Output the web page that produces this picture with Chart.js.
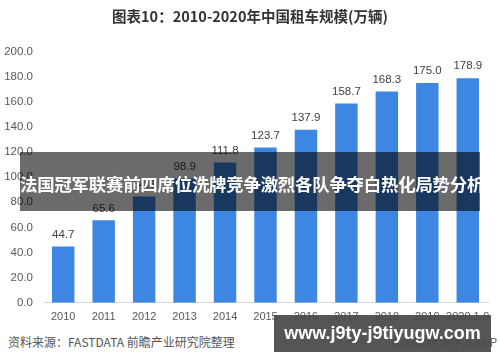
<!DOCTYPE html>
<html><head><meta charset="utf-8">
<script src="https://cdn.jsdelivr.net/npm/chart.js@4"></script>
<style>
html,body{margin:0;padding:0;background:#fff;}
#wrap{position:relative;width:500px;height:362px;overflow:hidden;font-family:"Liberation Sans","Noto Sans CJK SC",sans-serif;}
#cv{position:absolute;left:0;top:0;}
.src{position:absolute;left:8px;top:333px;font-size:12px;color:#555;font-family:"Noto Sans CJK SC",sans-serif;white-space:nowrap;}
.app{position:absolute;right:3px;top:333px;font-size:12px;color:#666;font-family:"Noto Sans CJK SC",sans-serif;white-space:nowrap;}
.banner{position:absolute;left:20px;top:152px;width:460px;height:59px;background:rgba(0,0,0,0.58);overflow:hidden;}
.banner span{position:absolute;left:0;right:0;top:0;bottom:0;color:#fff;font-weight:bold;font-size:17.4px;line-height:63px;text-align:center;font-family:"Noto Sans CJK SC",sans-serif;white-space:nowrap;letter-spacing:-0.2px;}
.wm{position:absolute;left:274px;top:315px;width:217px;height:37px;background:rgba(72,72,72,0.93);color:#fff;font-weight:bold;font-size:18px;line-height:37px;text-align:center;font-family:"Liberation Sans",sans-serif;white-space:nowrap;}
</style></head>
<body>
<div id="wrap">
<canvas id="cv" width="500" height="330"></canvas>
<div class="src">资料来源：FASTDATA 前瞻产业研究院整理</div>
<div class="app">@前瞻经济学人APP</div>
<div class="banner"><span>法国冠军联赛前四席位洗牌竞争激烈各队争夺白热化局势分析</span></div>
<div class="wm">www.j9ty-j9tiyugw.com</div>
</div>
<script>
const categories = ["2010","2011","2012","2013","2014","2015","2016","2017","2018","2019","2020.1-9"];
const fleetSize = [44.7,65.6,84.6,98.9,111.8,123.7,137.9,158.7,168.3,175.0,178.9];
const chartTitle = "图表10：2010-2020年中国租车规模(万辆)";

const valueLabels = {
  id:'valueLabels',
  afterDatasetsDraw(chart){
    const ctx = chart.ctx;
    const meta = chart.getDatasetMeta(0);
    ctx.save();
    ctx.font = '11.5px "Liberation Sans", sans-serif';
    ctx.fillStyle = '#404040';
    ctx.textAlign = 'center';
    ctx.textBaseline = 'middle';
    meta.data.forEach((bar,i)=>{
      ctx.fillText(fleetSize[i].toFixed(1), bar.x, bar.y - 12);
    });
    ctx.restore();
  }
};

new Chart(document.getElementById('cv'), {
  type:'bar',
  data:{labels:categories, datasets:[{data:fleetSize, backgroundColor:'#3d87e2', barPercentage:0.555, categoryPercentage:1}]},
  options:{
    responsive:false, animation:false,
    layout:{padding:{left:0,right:0,top:0,bottom:0}},
    plugins:{
      legend:{display:false}, tooltip:{enabled:false},
      title:{display:true,text:chartTitle,color:'#333',font:{size:14.5,weight:'bold',family:'"Noto Sans CJK SC", sans-serif'},padding:{top:8,bottom:26.3}}
    },
    scales:{
      x:{
        grid:{display:false,drawTicks:false},
        border:{display:true,color:'#d9d9d9'},
        ticks:{color:'#595959',font:{size:11,family:'"Liberation Sans", sans-serif'},padding:8,maxRotation:0,autoSkip:false},
        afterFit(s){s.height = 27.3;}
      },
      y:{
        min:0,max:200,
        grid:{display:false,drawTicks:false},
        border:{display:false},
        ticks:{stepSize:20,color:'#595959',font:{size:11.5,family:'"Liberation Sans", sans-serif'},padding:10,callback:v=>Number(v).toFixed(1)},
        afterFit(s){s.width = 43;}
      },
      yRightSpace:{
        position:'right',min:0,max:200,
        grid:{display:false,drawTicks:false},
        border:{display:false},
        ticks:{display:false},
        afterFit(s){s.width = 12;}
      }
    }
  },
  plugins:[valueLabels]
});
</script>
</body></html>
